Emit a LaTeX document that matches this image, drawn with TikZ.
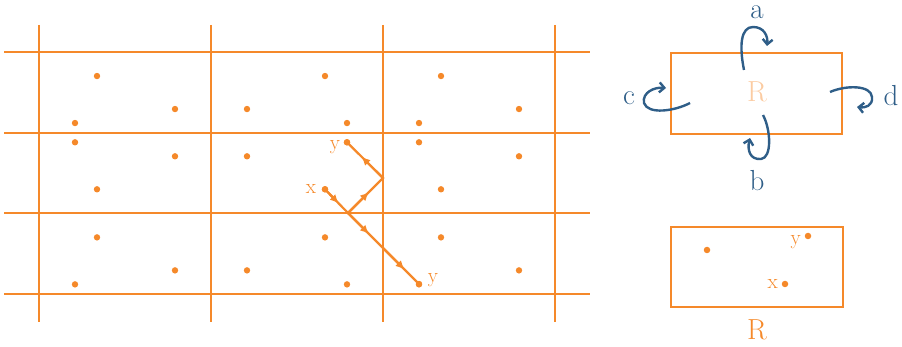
\documentclass[tikz,border=0pt]{standalone}
\usepackage{fontspec}
\usepackage{tikz}
\usetikzlibrary{arrows.meta,calc}
\definecolor{orng}{HTML}{F5892A}
\definecolor{peach}{HTML}{FBCBA1}
\definecolor{navy}{HTML}{2F5E88}
\tikzset{
 gridline/.style={orng,line width=2.8pt},
 walk/.style={orng,line width=2.2pt},
 halfway/.style={orng,line width=2.2pt,-{Latex[length=9pt,width=8pt]}},
 dot/.style={circle,fill=orng,inner sep=0pt,minimum size=6.5pt},
 lbl/.style={orng,anchor=base,inner sep=1pt,font=\fontsize{21}{22}\selectfont},
 side/.style={navy,anchor=base,inner sep=1pt,font=\fontsize{29}{30}\selectfont},
 swirl/.style={navy,line width=2.4pt,-{Straight Barb[length=5pt,width=10pt]}},
 region/.style={draw=orng,line width=2.8pt}
}
\begin{document}
\begin{tikzpicture}[x=1pt,y=-1pt]
 \useasboundingbox (0,0) rectangle (902,347);
 % grid of cells
 \foreach \gx in {39,211,383,555}
  \draw[gridline] (\gx,25) -- (\gx,322);
 \foreach \gy in {52,133,213,294}
  \draw[gridline] (4,\gy) -- (590,\gy);
 % reflected copies of the points
 \foreach \i in {0,1,2}
  \foreach \j in {0,1,2} {
   \pgfmathsetmacro{\sx}{1-2*mod(\i,2)}
   \pgfmathsetmacro{\sy}{1-2*mod(\j,2)}
   \begin{scope}[shift={(125+172*\i,92.33+80.67*\j)},xscale=\sx,yscale=\sy]
    \fill[orng] (-28,-16.3) circle (3.2pt) (50,16.7) circle (3.2pt) (-50,30.7) circle (3.2pt);
   \end{scope}
  }
 % path from x to y
 \coordinate (x) at (325,189.3);
 \coordinate (m) at (348,213);
 \coordinate (w) at (383,178);
 \coordinate (y) at (347,142.3);
 \coordinate (v) at (383,248);
 \coordinate (yy) at (419,284);
 \draw[walk] (x) -- (m) -- (w) -- (y);
 \draw[walk] (m) -- (yy);
 \draw[halfway] (x) -- ($(x)!0.6!(m)$);
 \draw[halfway] (m) -- ($(m)!0.6!(w)$);
 \draw[halfway] (w) -- ($(w)!0.6!(y)$);
 \draw[halfway] (m) -- ($(m)!0.6!(v)$);
 \draw[halfway] (v) -- ($(v)!0.6!(yy)$);
 \fill[orng] (x) circle (3.2pt) (y) circle (3.2pt) (yy) circle (3.2pt);
 \node[lbl] (xl) at (311,194) {x};
 \node[lbl] (yl) at (335,150) {y};
 \node[lbl] (yyl) at (433,283) {y};

 % cell R with its four sides
 \node[region,minimum width=171pt,minimum height=81pt,inner sep=0pt] (R) at (756.5,93.5) {};
 \node[peach,anchor=base,font=\fontsize{29}{30}\selectfont] (Rl) at (757,102) {R};
 \node[side] (a) at (757,19) {a};
 \node[side] (b) at (757,191) {b};
 \node[side] (c) at (629,105) {c};
 \node[side] (d) at (891,106) {d};
 \coordinate (a0) at (744,70);  \coordinate (a1) at (767,46);
 \coordinate (b0) at (763,115); \coordinate (b1) at (750,138);
 \coordinate (c0) at (690,103); \coordinate (c1) at (666,88);
 \coordinate (d0) at (830,92);  \coordinate (d1) at (857,107);
 \draw[swirl] (a0) .. controls (739,45) and (741,27) .. (753,27) .. controls (764,27) and (768,36) .. (a1);
 \draw[swirl] (b0) .. controls (771,130) and (772,158) .. (761,159) .. controls (750,160) and (747,150) .. (b1);
 \draw[swirl] (c0) .. controls (675,111) and (648,115) .. (644,103) .. controls (642,92) and (655,87) .. (c1);
 \draw[swirl] (d0) .. controls (846,85) and (871,85) .. (872,97) .. controls (873,106) and (865,108) .. (d1);

 % R with the points folded into it
 \node[region,minimum width=172pt,minimum height=80pt,inner sep=0pt] (Rb) at (757,267) {};
 \node[orng,anchor=base,font=\fontsize{29}{30}\selectfont] (Rbl) at (757,339) {R};
 \node[dot] (p) at (707,250) {};
 \node[dot] (py) at (808,236) {};
 \node[dot] (px) at (785,284) {};
 \node[lbl,anchor=base east] (pyl) at (802,245) {y};
 \node[lbl,anchor=base east] (pxl) at (779,289) {x};
\end{tikzpicture}
\end{document}
